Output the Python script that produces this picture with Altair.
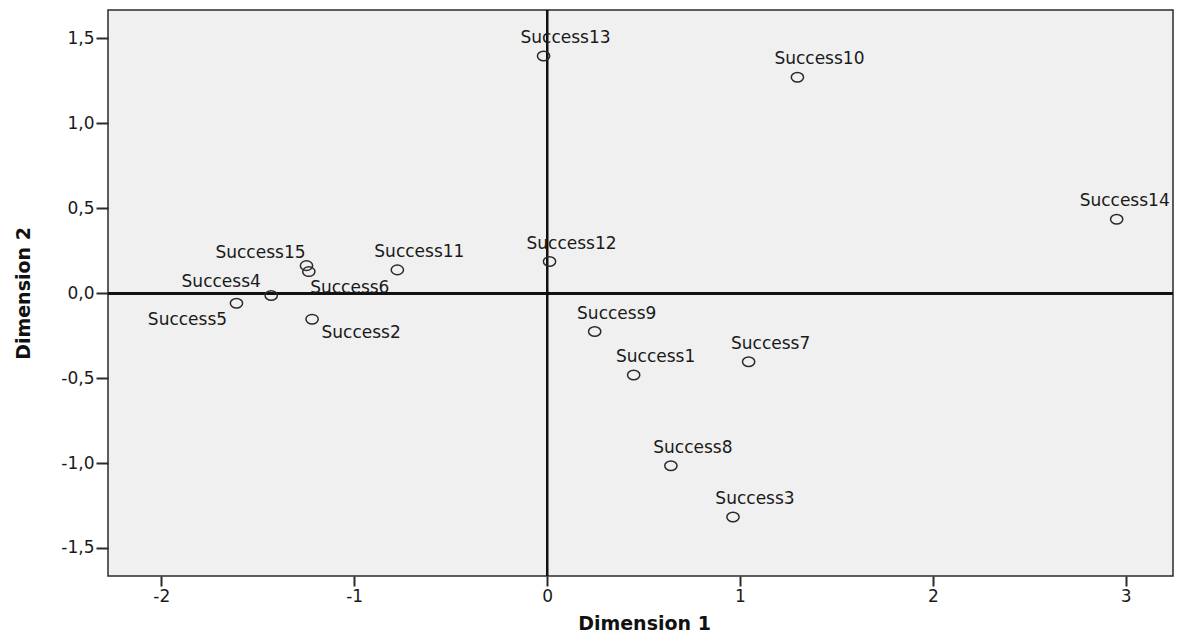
import altair as alt
import pandas as pd

# ---- data ----
names = ["Success1", "Success2", "Success3", "Success4", "Success5",
         "Success6", "Success7", "Success8", "Success9", "Success10",
         "Success11", "Success12", "Success13", "Success14", "Success15"]
dim1 = [0.449, -1.218, 0.964, -1.430, -1.610,
        -1.235, 1.045, 0.642, 0.247, 1.298,
        -0.776, 0.013, -0.018, 2.953, -1.247]
dim2 = [-0.482, -0.153, -1.318, -0.014, -0.059,
        0.127, -0.404, -1.016, -0.226, 1.271,
        0.137, 0.186, 1.396, 0.435, 0.162]
x_ticks = [-2, -1, 0, 1, 2, 3]
y_ticks = [-1.5, -1.0, -0.5, 0.0, 0.5, 1.0, 1.5]

# ---- label placement (pixels, relative to each point) ----
default_offset = (22, -18)
label_offsets = {
    "Success14": (8, -18),
    "Success15": (-46, -13),
    "Success4": (-50, -14),
    "Success6": (41, 16),
    "Success2": (49, 14),
    "Success5": (-49, 17),
}

df = pd.DataFrame({"name": names, "dim1": dim1, "dim2": dim2})

FONT = "DejaVu Sans"
MINUS = "\u2212"
PLOT_W = 1065
PLOT_H = 566

x_enc = alt.X(
    "dim1:Q",
    scale=alt.Scale(domain=[-2.276, 3.245], nice=False, zero=False),
    axis=alt.Axis(
        values=x_ticks, title="Dimension 1",
        labelExpr=f"replace(format(datum.value, 'd'), '{MINUS}', '-')",
        tickSize=10, labelPadding=2,
        titleX=536, titleY=47, titleAlign="center", titleBaseline="middle",
    ),
)
y_enc = alt.Y(
    "dim2:Q",
    scale=alt.Scale(domain=[-1.665, 1.667], nice=False, zero=False),
    axis=alt.Axis(
        values=y_ticks, title="Dimension 2",
        labelExpr=f"replace(replace(format(datum.value, '.1f'), '.', ','), '{MINUS}', '-')",
        tickSize=12, labelPadding=2,
        titleX=-85, titleY=283, titleAngle=-90, titleAlign="center",
        titleBaseline="middle",
    ),
)

base = alt.Chart(df)

hline = base.mark_rule(color="#111", strokeWidth=2).encode(y=alt.datum(0))
vline = base.mark_rule(color="#111", strokeWidth=2).encode(x=alt.datum(0))

ellipse = "M-1,0A1,0.78,0,1,1,1,0A1,0.78,0,1,1,-1,0Z"
points = base.mark_point(
    shape=ellipse, size=150, filled=False, stroke="#2a2a2a",
    strokeWidth=1.5, opacity=1,
).encode(x=x_enc, y=y_enc)

layers = [hline, vline, points]
for n in names:
    dx, dy = label_offsets.get(n, default_offset)
    layers.append(
        base.transform_filter(alt.datum.name == n)
        .mark_text(dx=dx, dy=dy, font=FONT, fontSize=17, color="#1a1a1a",
                   align="center", baseline="middle")
        .encode(x=x_enc, y=y_enc, text="name:N")
    )

chart = (
    alt.layer(*layers)
    .properties(
        width=PLOT_W, height=PLOT_H,
        autosize=alt.AutoSizeParams(type="none"),
        padding={"left": 100, "top": 2, "right": 1, "bottom": 56},
        background="white",
    )
    .configure_view(fill="#F0F0F0", stroke="#2a2a2a", strokeWidth=1.5)
    .configure_axis(
        grid=False, domain=False,
        labelFont=FONT, labelFontSize=17, labelColor="#1a1a1a",
        tickColor="#2a2a2a", tickWidth=2,
        titleFont=FONT, titleFontSize=19, titleFontWeight="bold",
        titleColor="#111",
    )
)

chart.save("out.html", embed_options={"renderer": "svg", "actions": False})
